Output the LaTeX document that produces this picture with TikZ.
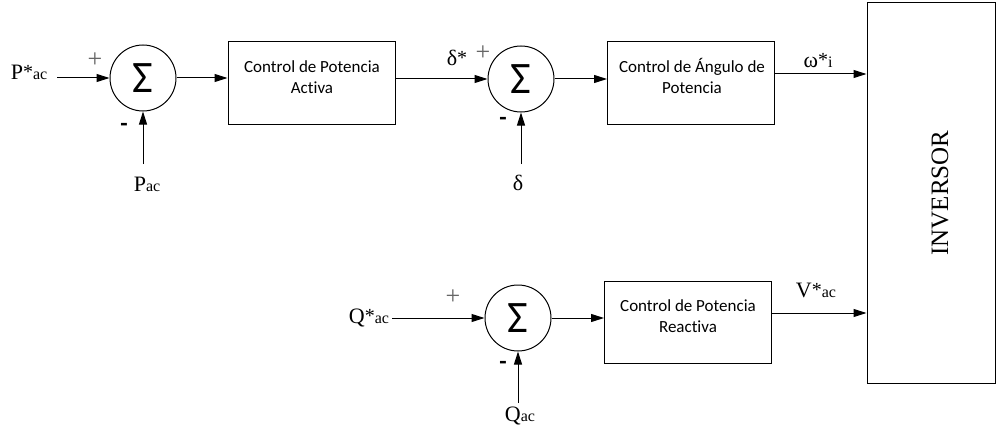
\documentclass[tikz,border=0pt]{standalone}
\usepackage{fontspec}
\setmainfont{Liberation Serif}
\newfontfamily\blockfont[RawFeature=-liga]{Carlito}
\usetikzlibrary{arrows.meta}
\newcommand{\lbl}[2]{{\fontsize{22}{22}\selectfont #1}{\fontsize{16}{16}\selectfont #2}}
\newcommand{\lbls}[2]{{\fontsize{22}{22}\selectfont #1}{\fontsize{20}{20}\selectfont\raisebox{1pt}{*}}{\fontsize{16}{16}\selectfont #2}}
\begin{document}
\begin{tikzpicture}[x=1pt,y=-1pt,line width=1pt,
  arr/.style={-{Triangle[length=13pt,width=8pt]}},
  blk/.style={draw,rectangle,minimum width=167pt,minimum height=82pt,inner sep=0pt},
  blktext/.style={font=\blockfont\fontsize{17}{21}\selectfont,align=center,inner sep=0pt},
  sum/.style={draw,circle,minimum size=66pt,inner sep=0pt,font=\blockfont\fontsize{45}{45}\selectfont},
  lab/.style={inner sep=0pt},
  plus/.style={inner sep=0pt,text=black!60,font=\fontsize{26}{26}\selectfont},
  minus/.style={inner sep=0pt,font=\blockfont\bfseries\fontsize{24}{24}\selectfont}]
\useasboundingbox (0,0) rectangle (996,428);

% summing junctions
\node[sum] (s1) at (143,78) {Σ};
\node[sum] (s2) at (521,79) {Σ};
\node[sum] (s3) at (518,318) {Σ};

% blocks
\node[blk] (b1) at (311.5,83) {};
\node[blktext] at (312,77) {Control de Potencia\\Activa};
\node[blk] (b2) at (691,83) {};
\node[blktext] at (692,76) {Control de Ángulo de\\Potencia};
\node[blk] (b3) at (688,322.5) {};
\node[blktext] at (688,316) {Control de Potencia\\Reactiva};

% inverter
\node[draw,rectangle,minimum width=128pt,minimum height=380pt,inner sep=0pt] (inv) at (931,193) {};
\node[rotate=90,inner sep=0pt,font=\fontsize{25}{25}\selectfont] (invt) at (940,193) {INVERSOR};

% input labels
\node[lab] (pref) at (29,72) {\lbls{P}{ac}};
\node[lab] (pmeas) at (147,184) {\lbl{P}{ac}};
\node[lab] (dref) at (457,58) {{\fontsize{22}{22}\selectfont δ}{\fontsize{20}{20}\selectfont\raisebox{1pt}{*}}};
\node[lab] (dmeas) at (518,183) {{\fontsize{22}{22}\selectfont δ}};
\node[lab] (wref) at (818,61) {{\fontsize{22}{22}\selectfont ω}{\fontsize{20}{20}\selectfont\raisebox{1pt}{*}}{\fontsize{16}{16}\selectfont i}};
\node[lab] (qref) at (369,318) {\lbls{Q}{ac}};
\node[lab] (qmeas) at (520,416) {\lbl{Q}{ac}};
\node[lab] (vref) at (816,290) {\lbls{V}{ac}};

% signs
\node[plus] (p1) at (95,60) {+};
\node[minus] (m1) at (124,127) {-};
\node[plus] (p2) at (483,53) {+};
\node[minus] (m2) at (503,121) {-};
\node[plus] (p3) at (453,297) {+};
\node[minus] (m3) at (503,365) {-};

% connector coordinates
\coordinate (c1) at (57,78);
\coordinate (c2) at (143,164);
\coordinate (c3) at (521,164);
\coordinate (c4) at (392,318);
\coordinate (c5) at (518,403);

% connectors
\draw[arr] (c1) -- (s1.west);
\draw[arr] (c2) -- (s1.south);
\draw[arr] (s1.east) -- (s1.east -| b1.west);
\draw[arr] (b1.east |- s2.west) -- (s2.west);
\draw[arr] (c3) -- (s2.south);
\draw[arr] (s2.east) -- (s2.east -| b2.west);
\draw[arr] ([yshift=9pt]b2.east) -- ([yshift=9pt]b2.east -| inv.west);
\draw[arr] (c4) -- (s3.west);
\draw[arr] (c5) -- (s3.south);
\draw[arr] (s3.east) -- (s3.east -| b3.west);
\draw[arr] ([yshift=9.5pt]b3.east) -- ([yshift=9.5pt]b3.east -| inv.west);
\end{tikzpicture}
\end{document}
